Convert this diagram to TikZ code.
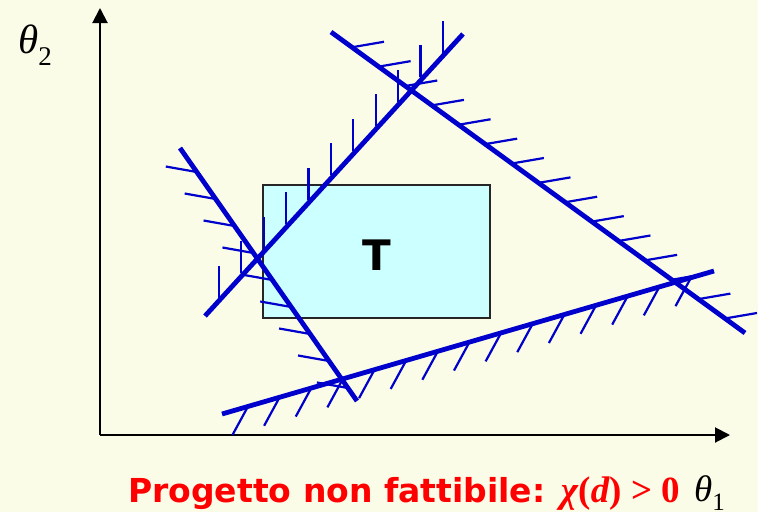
\documentclass[tikz,border=0pt]{standalone}
\usepackage{fontspec}
\setsansfont{DejaVu Sans}
\newfontfamily\tnr{Liberation Serif}
\usepackage{tikz}
\usetikzlibrary{arrows.meta, calc}

\definecolor{bgyellow}{RGB}{251,252,232}
\definecolor{lineblue}{RGB}{0,0,204}
\definecolor{tcyan}{RGB}{204,255,255}

\begin{document}
\begin{tikzpicture}[
    x=1pt, y=-1pt,
    axis/.style={line width=2pt, -{Triangle[length=15pt, width=15pt]}},
    bound/.style={draw=lineblue, line width=4.8pt},
    hatch/.style={draw=lineblue, line width=2.2pt},
    target/.style={rectangle, draw=black!85, line width=1.8pt, fill=tcyan, minimum width=227pt, minimum height=133pt, text height=37pt, font=\sffamily\bfseries\fontsize{42}{42}\selectfont}
]

% Background
\useasboundingbox (0,0) rectangle (758,512);
\fill [bgyellow] (0,0) rectangle (758,512);

% Axes
\coordinate (O) at (100,435);
\coordinate (ytop) at (100,8);
\coordinate (xend) at (730,435);
\draw [axis] (O) -- (ytop);
\draw [axis] (O) -- (xend);
\node (th2) [anchor=base west, inner sep=0pt] at (18,53) {\tnr\fontsize{41}{41}\selectfont\itshape θ\upshape\raisebox{-12pt}{\fontsize{27}{27}\selectfont 2}};
\node (th1) [anchor=base west, inner sep=0pt] at (694,501) {\tnr\fontsize{37}{37}\selectfont\itshape θ\upshape\raisebox{-9pt}{\fontsize{25}{25}\selectfont 1}};

% Target region
\node (T) [target] at (376.5,251.5) {T};

% Constraint lines
\coordinate (a1) at (205,316);
\coordinate (a2) at (463,34);
\coordinate (b1) at (331,32);
\coordinate (b2) at (745,333);
\coordinate (c1) at (180,148);
\coordinate (c2) at (357,401);
\coordinate (d1) at (222,414);
\coordinate (d2) at (714,271);
\draw [bound] (a1) -- (a2);
\draw [bound] (b1) -- (b2);
\draw [bound] (c1) -- (c2);
\draw [bound] (d1) -- (d2);

% Hatching
\foreach \k in {0,...,10}
    \draw [hatch] ($(a1)!{0.054+0.0868*\k}!(a2)$) ++(0,-3) -- ++(0,-32);
\foreach \k in {0,...,14}
    \draw [hatch] ($(b1)!{0.0507+0.06436*\k}!(b2)$) -- ++(32,-5.5);
\foreach \k in {0,...,8}
    \draw [hatch] ($(c1)!{0.0949+0.10671*\k}!(c2)$) -- ++(-31,-5.5);
\foreach \k in {0,...,14}
    \draw [hatch] ($(d1)!{0.0528+0.06432*\k}!(d2)$) -- ++(-15.5,28.5);

% Caption
\node (caption) [anchor=base west, inner sep=0pt, text=red] at (128,502) {\sffamily\bfseries\fontsize{33}{33}\selectfont Progetto non fattibile: {\tnr\bfseries\fontsize{37}{37}\selectfont\itshape χ\/\upshape(\itshape d\/\upshape) > 0}};

\end{tikzpicture}
\end{document}
